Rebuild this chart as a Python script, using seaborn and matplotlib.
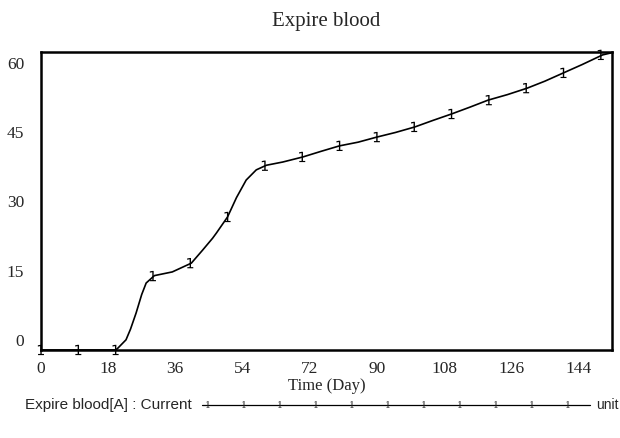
import numpy as np
import pandas as pd
import matplotlib
matplotlib.use('Agg')
import matplotlib.pyplot as plt
from matplotlib.lines import Line2D
import seaborn as sns

# curva (dia, valor)
dias = [0, 10, 20, 20.5, 22.8, 24, 25.5, 27, 28.2, 30.4, 35.2, 40.3, 43.3, 46, 47, 50,
        52.4, 55, 57.7, 60.4, 64.8, 70.2, 75, 80, 85, 90, 95, 100.2, 105, 110,
        115, 119.8, 125, 130.3, 135, 140, 145, 150.5, 152.6]
valores = [0, 0, 0, 0.3, 2.2, 4.5, 8, 12, 14.5, 16.1, 16.9, 18.8, 21.6, 24.2, 25.3, 28.8,
           33, 36.8, 39, 40, 40.7, 41.8, 43, 44.2, 45, 46.1, 47.1, 48.3, 49.7, 51.1,
           52.6, 54.1, 55.3, 56.7, 58.2, 60, 61.8, 63.9, 64.3]
# marcadores a cada 10 dias
dias_marc = [0, 10, 20, 30, 40, 50, 60, 70, 80, 90, 100, 110, 120, 130, 140, 150]
valores_marc = [0, 0, 0, 16.0, 18.8, 28.8, 39.9, 41.8, 44.2, 46.1, 48.3, 51.1, 54.1, 56.7, 60, 63.9]
xticks = [0, 18, 36, 54, 72, 90, 108, 126, 144]
yticks = [0, 15, 30, 45, 60]

df = pd.DataFrame({'dia': dias, 'valor': valores})
dm = pd.DataFrame({'dia': dias_marc, 'valor': valores_marc})

sns.set_style('white')
plt.rcParams['font.family'] = ['Liberation Serif', 'DejaVu Serif']

fig = plt.figure(figsize=(6.2, 4.38), dpi=100)
ax = fig.add_axes([0.066, 0.201, 0.921, 0.680])

sns.lineplot(data=df, x='dia', y='valor', color='black', linewidth=1.2, ax=ax)
sns.scatterplot(data=dm, x='dia', y='valor', marker='$1$', s=55, color='black',
                edgecolor='none', ax=ax, zorder=3)
for c in ax.collections:
    c.set_clip_on(False)

ax.set_xlim(0, 153)
ax.set_ylim(0, 64.5)
ax.set_xticks(xticks)
ax.set_yticks(yticks)
ax.tick_params(length=0, labelsize=12.5)
ax.tick_params(axis='y', pad=12)
ax.tick_params(axis='x', pad=8)
for lb in ax.get_yticklabels():
    lb.set_verticalalignment('bottom')
for s in ax.spines.values():
    s.set_linewidth(1.8)
    s.set_color('black')
ax.set_xlabel('Time (Day)', fontsize=12, labelpad=1)
ax.set_ylabel('')
ax.set_title('Expire blood', fontsize=15, pad=19)

# legenda no rodape
fig.text(0.04, 0.075, 'Expire blood[A] : Current', fontsize=11, va='center',
         family=['Liberation Sans Narrow', 'Liberation Sans'])
fig.add_artist(Line2D([0.325, 0.952], [0.075, 0.075], transform=fig.transFigure,
                      color='black', linewidth=0.9))
for i in range(11):
    fig.text(0.335 + i * 0.058, 0.075, '1', fontsize=8, ha='center', va='center')
fig.text(0.962, 0.075, 'unit', fontsize=10, va='center',
         family=['Liberation Sans Narrow', 'Liberation Sans'])

fig.savefig('out.png', dpi=100)
